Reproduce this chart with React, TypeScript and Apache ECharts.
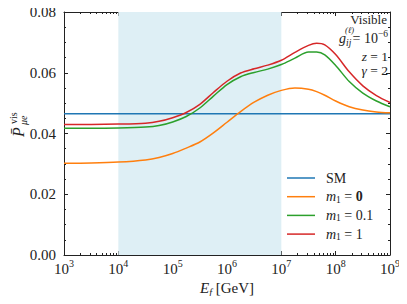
import React, { useEffect, useRef } from "react";
import * as echarts from "echarts";

// log10 of the final energy E_f [GeV]
const logEnergy = [3, 3.5, 4, 4.5, 4.75, 5, 5.25, 5.5, 5.75, 6, 6.25, 6.5, 6.75, 7, 7.25, 7.5, 7.65, 7.8, 8, 8.25, 8.5, 8.75, 9];
const smLogEnergy = [3, 9];
const smValues = [0.0465, 0.0465];
const m0Values = [0.0302, 0.0303, 0.0306, 0.0313, 0.0321, 0.0334, 0.0352, 0.0372, 0.0402, 0.0437, 0.0472, 0.0503, 0.0526, 0.0542, 0.055, 0.0546, 0.0538, 0.0526, 0.0507, 0.0488, 0.0477, 0.0471, 0.0468];
const m01Values = [0.0417, 0.0417, 0.0418, 0.0421, 0.0426, 0.0438, 0.0456, 0.0484, 0.0523, 0.0561, 0.0587, 0.0601, 0.0612, 0.0627, 0.0648, 0.0668, 0.0668, 0.0659, 0.0624, 0.0571, 0.0533, 0.0507, 0.0488];
const m1Values = [0.043, 0.043, 0.0431, 0.0434, 0.044, 0.0452, 0.0469, 0.0496, 0.0535, 0.0572, 0.0599, 0.0613, 0.0625, 0.0641, 0.0667, 0.069, 0.0697, 0.0692, 0.066, 0.0603, 0.0557, 0.0525, 0.0502];

const xTickExponents = [3, 4, 5, 6, 7, 8, 9];
const minorMultipliers = [2, 3, 4, 5, 6, 7, 8, 9];
const yMin = 0;
const yMax = 0.08;
const yInterval = 0.02;
const shadedRange = [1e4, 1e7];

const seriesNames = ["SM", "m1 = 0", "m1 = 0.1", "m1 = 1"];
const seriesColors = ["#1f77b4", "#ff7f0e", "#2ca02c", "#d62728"];
const legendLabels: Record<string, string> = {
  "SM": "SM",
  "m1 = 0": "{i|m}{s|1} = {b|0}",
  "m1 = 0.1": "{i|m}{s|1} = 0.1",
  "m1 = 1": "{i|m}{s|1} = 1",
};

const SERIF = "Liberation Serif";
const INK = "#222222";

export default function App() {
  const ref = useRef<HTMLDivElement>(null);

  useEffect(() => {
    if (!ref.current) return;
    const chart = echarts.init(ref.current, undefined, { renderer: "svg" });

    const majors = xTickExponents.map((e) => Math.pow(10, e));
    const minors: number[] = [];
    xTickExponents.slice(0, -1).forEach((e) => {
      minorMultipliers.forEach((k) => minors.push(k * Math.pow(10, e)));
    });

    const pairs = (xs: number[], ys: number[]) => xs.map((e, i) => [Math.pow(10, e), ys[i]]);

    const baseX = {
      type: "log" as const,
      logBase: 10,
      min: 1e3,
      max: 1e9,
      splitLine: { show: false },
    };

    const xLabelRich = {
      b: { fontFamily: SERIF, fontSize: 15, color: INK, lineHeight: 20 },
      p: { fontFamily: SERIF, fontSize: 10, color: INK, lineHeight: 10, verticalAlign: "top" },
    };

    const option: any = {
      animation: false,
      textStyle: { fontFamily: SERIF },
      grid: { left: 64, right: 17, top: 12, bottom: 49 },
      xAxis: [
        {
          ...baseX,
          position: "bottom",
          axisLine: { show: true, lineStyle: { color: INK, width: 1 } },
          axisTick: { show: true, inside: true, length: 4, customValues: majors, lineStyle: { color: INK } },
          axisLabel: {
            customValues: majors,
            margin: 3.5,
            fontFamily: SERIF,
            showMaxLabel: true,
            showMinLabel: true,
            hideOverlap: false,
            formatter: (v: number) => `{b|10}{p|${Math.round(Math.log10(v))}}`,
            rich: xLabelRich,
          },
          name: "{i|E}{s|f} [GeV]",
          nameLocation: "middle",
          nameGap: 21,
          nameTextStyle: {
            fontFamily: SERIF,
            fontSize: 15,
            color: INK,
            rich: {
              i: { fontFamily: SERIF, fontSize: 15, fontStyle: "italic", color: INK, lineHeight: 18 },
              s: { fontFamily: SERIF, fontSize: 10, fontStyle: "italic", color: INK, lineHeight: 10, verticalAlign: "bottom" },
            },
          },
        },
        {
          ...baseX,
          position: "bottom",
          axisLine: { show: false },
          axisTick: { show: true, inside: true, length: 2, customValues: minors, lineStyle: { color: INK } },
          axisLabel: { show: false },
        },
        {
          ...baseX,
          position: "top",
          axisLine: { show: true, lineStyle: { color: INK, width: 1 } },
          axisTick: { show: true, inside: true, length: 4, customValues: majors, lineStyle: { color: INK } },
          axisLabel: { show: false },
        },
        {
          ...baseX,
          position: "top",
          axisLine: { show: false },
          axisTick: { show: true, inside: true, length: 2, customValues: minors, lineStyle: { color: INK } },
          axisLabel: { show: false },
        },
      ],
      yAxis: [
        {
          type: "value",
          position: "left",
          min: yMin,
          max: yMax,
          interval: yInterval,
          splitLine: { show: false },
          axisLine: { show: true, lineStyle: { color: INK, width: 1 } },
          axisTick: { show: true, inside: true, length: 4, lineStyle: { color: INK } },
          minorTick: { show: true, splitNumber: 4, length: 2, lineStyle: { color: INK } },
          axisLabel: {
            margin: 8,
            fontFamily: SERIF,
            fontSize: 15,
            color: INK,
            formatter: (v: number) => v.toFixed(2),
          },
        },
        {
          type: "value",
          position: "right",
          min: yMin,
          max: yMax,
          interval: yInterval,
          splitLine: { show: false },
          axisLine: { show: true, lineStyle: { color: INK, width: 1 } },
          axisTick: { show: true, inside: true, length: 4, lineStyle: { color: INK } },
          minorTick: { show: true, splitNumber: 4, length: 2, lineStyle: { color: INK } },
          axisLabel: { show: false },
        },
      ],
      legend: {
        data: seriesNames,
        orient: "vertical",
        left: 282,
        top: 165,
        icon: "rect",
        itemWidth: 28,
        itemHeight: 1.5,
        itemGap: 2.7,
        formatter: (name: string) => legendLabels[name],
        textStyle: {
          fontFamily: SERIF,
          fontSize: 14,
          color: INK,
          lineHeight: 16,
          padding: [0, 0, 0, 6],
          rich: {
            i: { fontFamily: SERIF, fontSize: 14, fontStyle: "italic", color: INK, lineHeight: 16 },
            s: { fontFamily: SERIF, fontSize: 9.5, color: INK, lineHeight: 10, verticalAlign: "bottom" },
            b: { fontFamily: SERIF, fontSize: 14, fontWeight: "bold", color: INK, lineHeight: 16 },
          },
        },
      },
      series: [
        {
          name: "band",
          type: "line",
          data: [],
          z: 1,
          markArea: {
            silent: true,
            itemStyle: { color: "#deeff5" },
            data: [[{ xAxis: shadedRange[0] }, { xAxis: shadedRange[1] }]],
          },
        },
        {
          name: seriesNames[0],
          type: "line",
          data: pairs(smLogEnergy, smValues),
          showSymbol: false,
          symbol: "none",
          lineStyle: { color: seriesColors[0], width: 1.5 },
          itemStyle: { color: seriesColors[0] },
        },
        ...[m0Values, m01Values, m1Values].map((vals, i) => ({
          name: seriesNames[i + 1],
          type: "line",
          data: pairs(logEnergy, vals),
          showSymbol: false,
          symbol: "none",
          smooth: 0.3,
          lineStyle: { color: seriesColors[i + 1], width: 1.5 },
          itemStyle: { color: seriesColors[i + 1] },
        })),
      ],
      graphic: [
        {
          type: "text",
          x: 387,
          y: 19,
          style: { text: "Visible", fontFamily: SERIF, fontSize: 13, fill: INK, align: "right", verticalAlign: "middle" },
        },
        {
          type: "text",
          x: 339,
          y: 38,
          style: { text: "g", fontFamily: SERIF, fontSize: 14, fontStyle: "italic", fill: INK, align: "left", verticalAlign: "middle" },
        },
        {
          type: "text",
          x: 345,
          y: 30,
          style: { text: "(ℓ)", fontFamily: SERIF, fontSize: 8.5, fontStyle: "italic", fill: INK, align: "left", verticalAlign: "middle" },
        },
        {
          type: "text",
          x: 346,
          y: 43,
          style: { text: "ij", fontFamily: SERIF, fontSize: 9.5, fontStyle: "italic", fill: INK, align: "left", verticalAlign: "middle" },
        },
        {
          type: "text",
          x: 388,
          y: 38,
          style: {
            text: "= 10{p|−6}",
            fontFamily: SERIF,
            fontSize: 14,
            fill: INK,
            align: "right",
            verticalAlign: "middle",
            lineHeight: 18,
            rich: { p: { fontFamily: SERIF, fontSize: 9.5, fill: INK, lineHeight: 10, verticalAlign: "top" } },
          },
        },
        {
          type: "text",
          x: 388,
          y: 56.5,
          style: {
            text: "{i|z} = 1",
            fontFamily: SERIF,
            fontSize: 13.5,
            fill: INK,
            align: "right",
            verticalAlign: "middle",
            lineHeight: 13,
            rich: { i: { fontFamily: SERIF, fontSize: 13.5, fontStyle: "italic", fill: INK, lineHeight: 13 } },
          },
        },
        {
          type: "text",
          x: 388,
          y: 70.5,
          style: {
            text: "{i|γ} = 2",
            fontFamily: SERIF,
            fontSize: 13.5,
            fill: INK,
            align: "right",
            verticalAlign: "middle",
            lineHeight: 13,
            rich: { i: { fontFamily: SERIF, fontSize: 13.5, fontStyle: "italic", fill: INK, lineHeight: 13 } },
          },
        },
        {
          type: "group",
          x: 18,
          y: 137,
          rotation: Math.PI / 2,
          children: [
            {
              type: "text",
              x: 0,
              y: 0,
              style: { text: "P̄", fontFamily: SERIF, fontSize: 16, fontStyle: "italic", fill: INK, align: "left", verticalAlign: "middle" },
            },
            {
              type: "text",
              x: 13,
              y: -5,
              style: { text: "vis", fontFamily: SERIF, fontSize: 10, fill: INK, align: "left", verticalAlign: "middle" },
            },
            {
              type: "text",
              x: 12,
              y: 5,
              style: { text: "μe", fontFamily: SERIF, fontSize: 10, fontStyle: "italic", fill: INK, align: "left", verticalAlign: "middle" },
            },
          ],
        },
      ],
    };

    chart.setOption(option);
    return () => chart.dispose();
  }, []);

  return <div ref={ref} style={{ width: 407, height: 304, margin: -8 }} />;
}
